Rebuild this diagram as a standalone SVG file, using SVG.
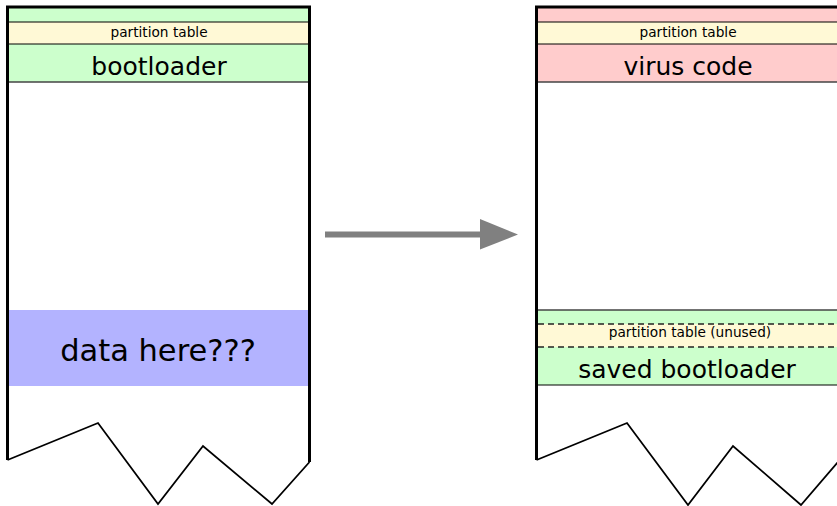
<svg xmlns="http://www.w3.org/2000/svg" width="837" height="506" viewBox="0 0 837 506">
<style>
text{font-family:"DejaVu Sans","Liberation Sans",sans-serif;fill:#000;text-anchor:middle}
.sm{font-size:13.7px}
.lg{font-size:25px}
.xl{font-size:30.5px}
.g{fill:#ccffcc}
.y{fill:#fff9d6}
.r{fill:#ffcccc}
.sep{stroke:#000;stroke-width:1}
.sep2{stroke:#444;stroke-width:1.3}
.dash{stroke:#222;stroke-width:1.3;stroke-dasharray:6,4}
.frame{fill:none;stroke:#000;stroke-width:3;stroke-linejoin:miter}
.zig{fill:none;stroke:#000;stroke-width:1.8;stroke-linejoin:miter}
</style>
<rect width="837" height="506" fill="#fff"/>
<g id="left-disk">
<rect class="g" x="8" y="8" width="302" height="14"/>
<rect class="y" x="8" y="22" width="302" height="22"/>
<rect class="g" x="8" y="44" width="302" height="38"/>
<line class="sep" x1="8" y1="22" x2="310" y2="22"/>
<line class="sep" x1="8" y1="44" x2="310" y2="44"/>
<line class="sep2" x1="8" y1="82" x2="310" y2="82"/>
<text class="sm" x="159" y="37">partition table</text>
<text class="lg" x="159" y="75">bootloader</text>
<rect x="8" y="310" width="301" height="76" fill="#b3b3ff"/>
<text class="xl" x="158" y="361">data here???</text>
<path class="frame" d="M7.5,460 V7 H309.5 V462"/>
<path class="zig" d="M7.5,460 L98,423 L158,504 L203,446 L272,504 L309.5,462"/>
</g>
<g id="right-disk">
<rect class="r" x="537" y="8" width="300" height="14"/>
<rect class="y" x="537" y="22" width="300" height="22"/>
<rect class="r" x="537" y="44" width="300" height="38"/>
<line class="sep" x1="537" y1="22" x2="837" y2="22"/>
<line class="sep" x1="537" y1="44" x2="837" y2="44"/>
<line class="sep2" x1="537" y1="82" x2="837" y2="82"/>
<text class="sm" x="688" y="37">partition table</text>
<text class="lg" x="688" y="75">virus code</text>
<rect class="g" x="537" y="310" width="300" height="14"/>
<rect class="y" x="537" y="324" width="300" height="23"/>
<rect class="g" x="537" y="347" width="300" height="38"/>
<line class="sep2" x1="537" y1="310" x2="837" y2="310"/>
<line class="dash" x1="538" y1="324" x2="837" y2="324"/>
<line class="dash" x1="538" y1="347" x2="837" y2="347"/>
<line class="sep" x1="537" y1="385" x2="837" y2="385"/>
<text class="sm" x="690" y="337">partition table (unused)</text>
<text class="lg" x="687" y="378">saved bootloader</text>
<path class="frame" d="M536.5,460 V7 H838"/>
<path class="zig" d="M536.5,460 L627,423 L688,505 L733,446 L801,505 L838,462"/>
</g>
<g id="connectors">
<line x1="325" y1="234.5" x2="485" y2="234.5" stroke="#808080" stroke-width="6"/>
<polygon points="480,219 518,234.5 480,249.5" fill="#808080"/>
</g>
</svg>
